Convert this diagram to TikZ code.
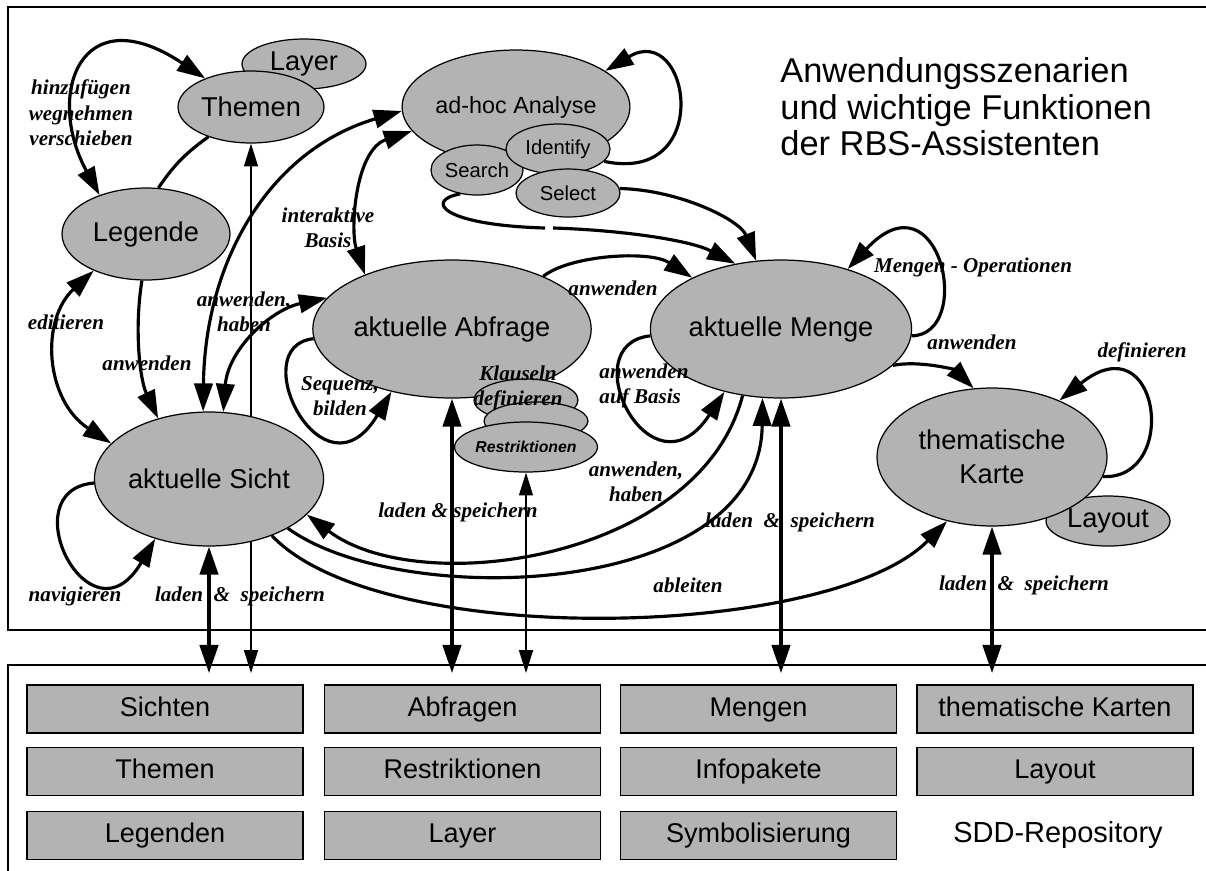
\documentclass[tikz,border=0pt]{standalone}
\usepackage{fontspec}
\setmainfont{Liberation Sans}
\newfontfamily\lblfont{Liberation Serif}
\usetikzlibrary{shapes.geometric}
\usetikzlibrary{arrows.meta}

\definecolor{nodegray}{RGB}{179,179,179}

\tikzset{
  bigell/.style={ellipse, draw, line width=0.7pt, fill=nodegray, inner sep=0pt, align=center, font=\fontsize{15.5}{19.3}\selectfont},
  smallell/.style={ellipse, draw, line width=0.7pt, fill=nodegray, inner sep=0pt, font=\fontsize{11.5}{13}\selectfont},
  repobox/.style={rectangle, draw, line width=1pt, fill=nodegray, minimum width=5.52cm, minimum height=0.96cm, text height=11.5pt, text depth=3pt, font=\fontsize{15.4}{18}\selectfont},
  lbl/.style={font={\lblfont\bfseries\itshape\fontsize{12}{14.5}\selectfont}, align=center, inner sep=0pt},
  conn/.style={line width=1.8pt, -{Triangle[length=16pt,width=10.5pt]}},
  dconn/.style={line width=1.8pt, {Triangle[length=16pt,width=10.5pt]}-{Triangle[length=16pt,width=10.5pt]}},
  plain/.style={line width=1.8pt},
  thinconn/.style={line width=0.6pt, {Triangle[length=13pt,width=8pt]}-{Triangle[length=13pt,width=8pt]}},
  frame/.style={line width=1.2pt}
}

\begin{document}
\begin{tikzpicture}[x=0.02cm, y=-0.02cm]

    \useasboundingbox (0,0) rectangle (1206,870);

    % frames (open to the right)
    \draw[frame] (8,7) rectangle (1220,630);
    \draw[frame] (8,880) -- (8,665) -- (1220,665);
    \coordinate (repotop) at (0,673);

    % title
    \node[anchor=west, align=left, inner sep=0pt, font=\fontsize{19.6}{20.7}\selectfont] (titel) at (780,107)
      {Anwendungsszenarien\\und wichtige Funktionen\\der RBS-Assistenten};

    % ellipses, back to front
    \node[bigell, minimum width=2.48cm, minimum height=1cm] (layer) at (304,64) {Layer};
    \node[bigell, minimum width=2.92cm, minimum height=1.44cm] (themen) at (251,107) {Themen};
    \node[bigell, minimum width=3.36cm, minimum height=1.84cm] (legende) at (146,234) {Legende};
    \draw[thinconn] (themen.south) -- (themen.south |- repotop);
    \node[bigell, minimum width=3.76cm, minimum height=2.28cm, font=\fontsize{13.3}{16}\selectfont] (adhoc) at (516,107) {ad-hoc Analyse};
    \node[smallell, minimum width=1.84cm, minimum height=1cm] (search) at (477,170) {Search};
    \node[smallell, minimum width=2.08cm, minimum height=1cm] (identify) at (558,149) {Identify};
    \node[smallell, minimum width=2.08cm, minimum height=0.96cm] (select) at (568,193) {Select};
    \node[bigell, minimum width=4.6cm, minimum height=2.76cm] (abfrage) at (452,329) {aktuelle Abfrage};
    \node[smallell, minimum width=2.08cm, minimum height=0.84cm] (klausA) at (526,400) {};
    \node[smallell, minimum width=2.08cm, minimum height=0.76cm] (klausB) at (536,421) {};
    \node[smallell, minimum width=2.08cm, minimum height=1cm, font=\bfseries\itshape\fontsize{9}{11}\selectfont] (restr) at (526,447) {Restriktionen};
    \node[bigell, minimum width=4.64cm, minimum height=2.76cm] (menge) at (781,329) {aktuelle Menge};
    \node[bigell, minimum width=4.2cm, minimum height=2.68cm] (sicht) at (209,479) {aktuelle Sicht};
    \node[bigell, minimum width=2.48cm, minimum height=1cm] (layout) at (1108,521) {Layout};
    \node[bigell, minimum width=4.6cm, minimum height=2.76cm] (karte) at (992,457) {thematische\\Karte};

    % repository
    \node[repobox] (bsichten) at (165,709) {Sichten};
    \node[repobox] (bthemen) at (165,771.5) {Themen};
    \node[repobox] (blegenden) at (165,835.5) {Legenden};
    \node[repobox] (babfragen) at (462.5,709) {Abfragen};
    \node[repobox] (brestr) at (462.5,771.5) {Restriktionen};
    \node[repobox] (blayer) at (462.5,835.5) {Layer};
    \node[repobox] (bmengen) at (758.5,709) {Mengen};
    \node[repobox] (binfo) at (758.5,771.5) {Infopakete};
    \node[repobox] (bsymbol) at (758.5,835.5) {Symbolisierung};
    \node[repobox] (bkarten) at (1055,709) {thematische Karten};
    \node[repobox] (blayoutbox) at (1055,771.5) {Layout};
    \node[font=\fontsize{16.5}{19}\selectfont] (sdd) at (1058,835) {SDD-Repository};

    % Legende, Themen
    \draw[dconn] (legende.140) .. controls (45,95) and (80,-5) .. (themen.148);
    \draw[plain] (legende.75) to[bend left=10] (themen.215);
    \draw[dconn] (legende.215) .. controls (40,320) and (45,400) .. (sicht.160);
    \draw[conn] (legende.265) .. controls (134,330) and (140,380) .. (sicht.130);

    % aktuelle Sicht
    \draw[dconn] (sicht.95) .. controls (205,260) and (270,150) .. (adhoc.182);
    \draw[dconn] (sicht.78) .. controls (228,350) and (270,310) .. (abfrage.166);
    \draw[dconn] (sicht.south) -- (sicht.south |- repotop);
    \draw[conn] (sicht.182) .. controls (10,490) and (90,650) .. (sicht.228);

    % aktuelle Abfrage
    \draw[dconn] (abfrage.148) .. controls (350,230) and (355,150) .. (adhoc.193);
    \draw[conn] (abfrage.184) .. controls (243,346) and (323,506) .. (abfrage.226);
    \draw[dconn] (abfrage.south) -- (abfrage.south |- repotop);
    \draw[thinconn] (restr.south) -- (restr.south |- repotop);
    \draw[conn] (abfrage.30) .. controls (570,255) and (650,250) .. (menge.150);

    % ad-hoc Analyse
    \draw[conn] (search.235) .. controls (425,200) and (440,225) .. (545,228)
      (553,228) .. controls (620,230) and (690,240) .. (menge.125);
    \draw[conn] (select.5) .. controls (680,190) and (740,220) .. (menge.110);
    \draw[conn] (identify.345) .. controls (715,185) and (690,20) .. (adhoc.22);

    % aktuelle Menge
    \draw[conn] (menge.-3) .. controls (975,335) and (940,170) .. (menge.42);
    \draw[conn] (menge.-18) .. controls (920,360) and (955,370) .. (karte.105);
    \draw[conn] (menge.183) .. controls (571,344) and (651,504) .. (menge.228);
    \draw[dconn] (menge.south) -- (menge.south |- repotop);
    \draw[conn] (menge.240) .. controls (700,560) and (420,600) .. (sicht.-20);
    \draw[conn] (sicht.-32) .. controls (400,610) and (760,600) .. (menge.255);
    \draw[conn] (sicht.-42) .. controls (380,650) and (830,640) .. (karte.235);

    % thematische Karte
    \draw[conn] (karte.-10) .. controls (1180,480) and (1160,320) .. (karte.40);
    \draw[dconn] (karte.south) -- (karte.south |- repotop);

    % labels
    \node[lbl] (lhinzu) at (81,113) {hinzufügen\\wegnehmen\\verschieben};
    \node[lbl] (linter) at (328,228) {interaktive\\Basis};
    \node[lbl] (lhaben1) at (244,312) {anwenden,\\haben};
    \node[lbl] (leditieren) at (66,322) {editieren};
    \node[lbl] (lanw1) at (147,363) {anwenden};
    \node[lbl] (lsequenz) at (340,396) {Sequenz,\\bilden};
    \node[lbl] (lnavig) at (75,596) {navigieren};
    \node[lbl] (lladen1) at (240,596) {laden\ \ \&\ \ speichern};
    \node[lbl] (lklausel) at (518,388) {Klauseln\\definieren};
    \node[lbl] (lladen2) at (458,512) {laden \& speichern};
    \node[lbl] (lanw2) at (613,288) {anwenden};
    \node[lbl] (lmengop) at (973,267) {Mengen - Operationen};
    \node[lbl, align=left] (lbasis) at (644,386) {anwenden\\auf Basis};
    \node[lbl] (lhaben2) at (636,482) {anwenden,\\haben};
    \node[lbl] (lladen3) at (790,522) {laden\ \ \&\ \ speichern};
    \node[lbl] (lableiten) at (688,585) {ableiten};
    \node[lbl] (lanw3) at (972,342) {anwenden};
    \node[lbl] (ldefin) at (1142,352) {definieren};
    \node[lbl] (lladen4) at (1024,585) {laden\ \ \&\ \ speichern};

\end{tikzpicture}
\end{document}
